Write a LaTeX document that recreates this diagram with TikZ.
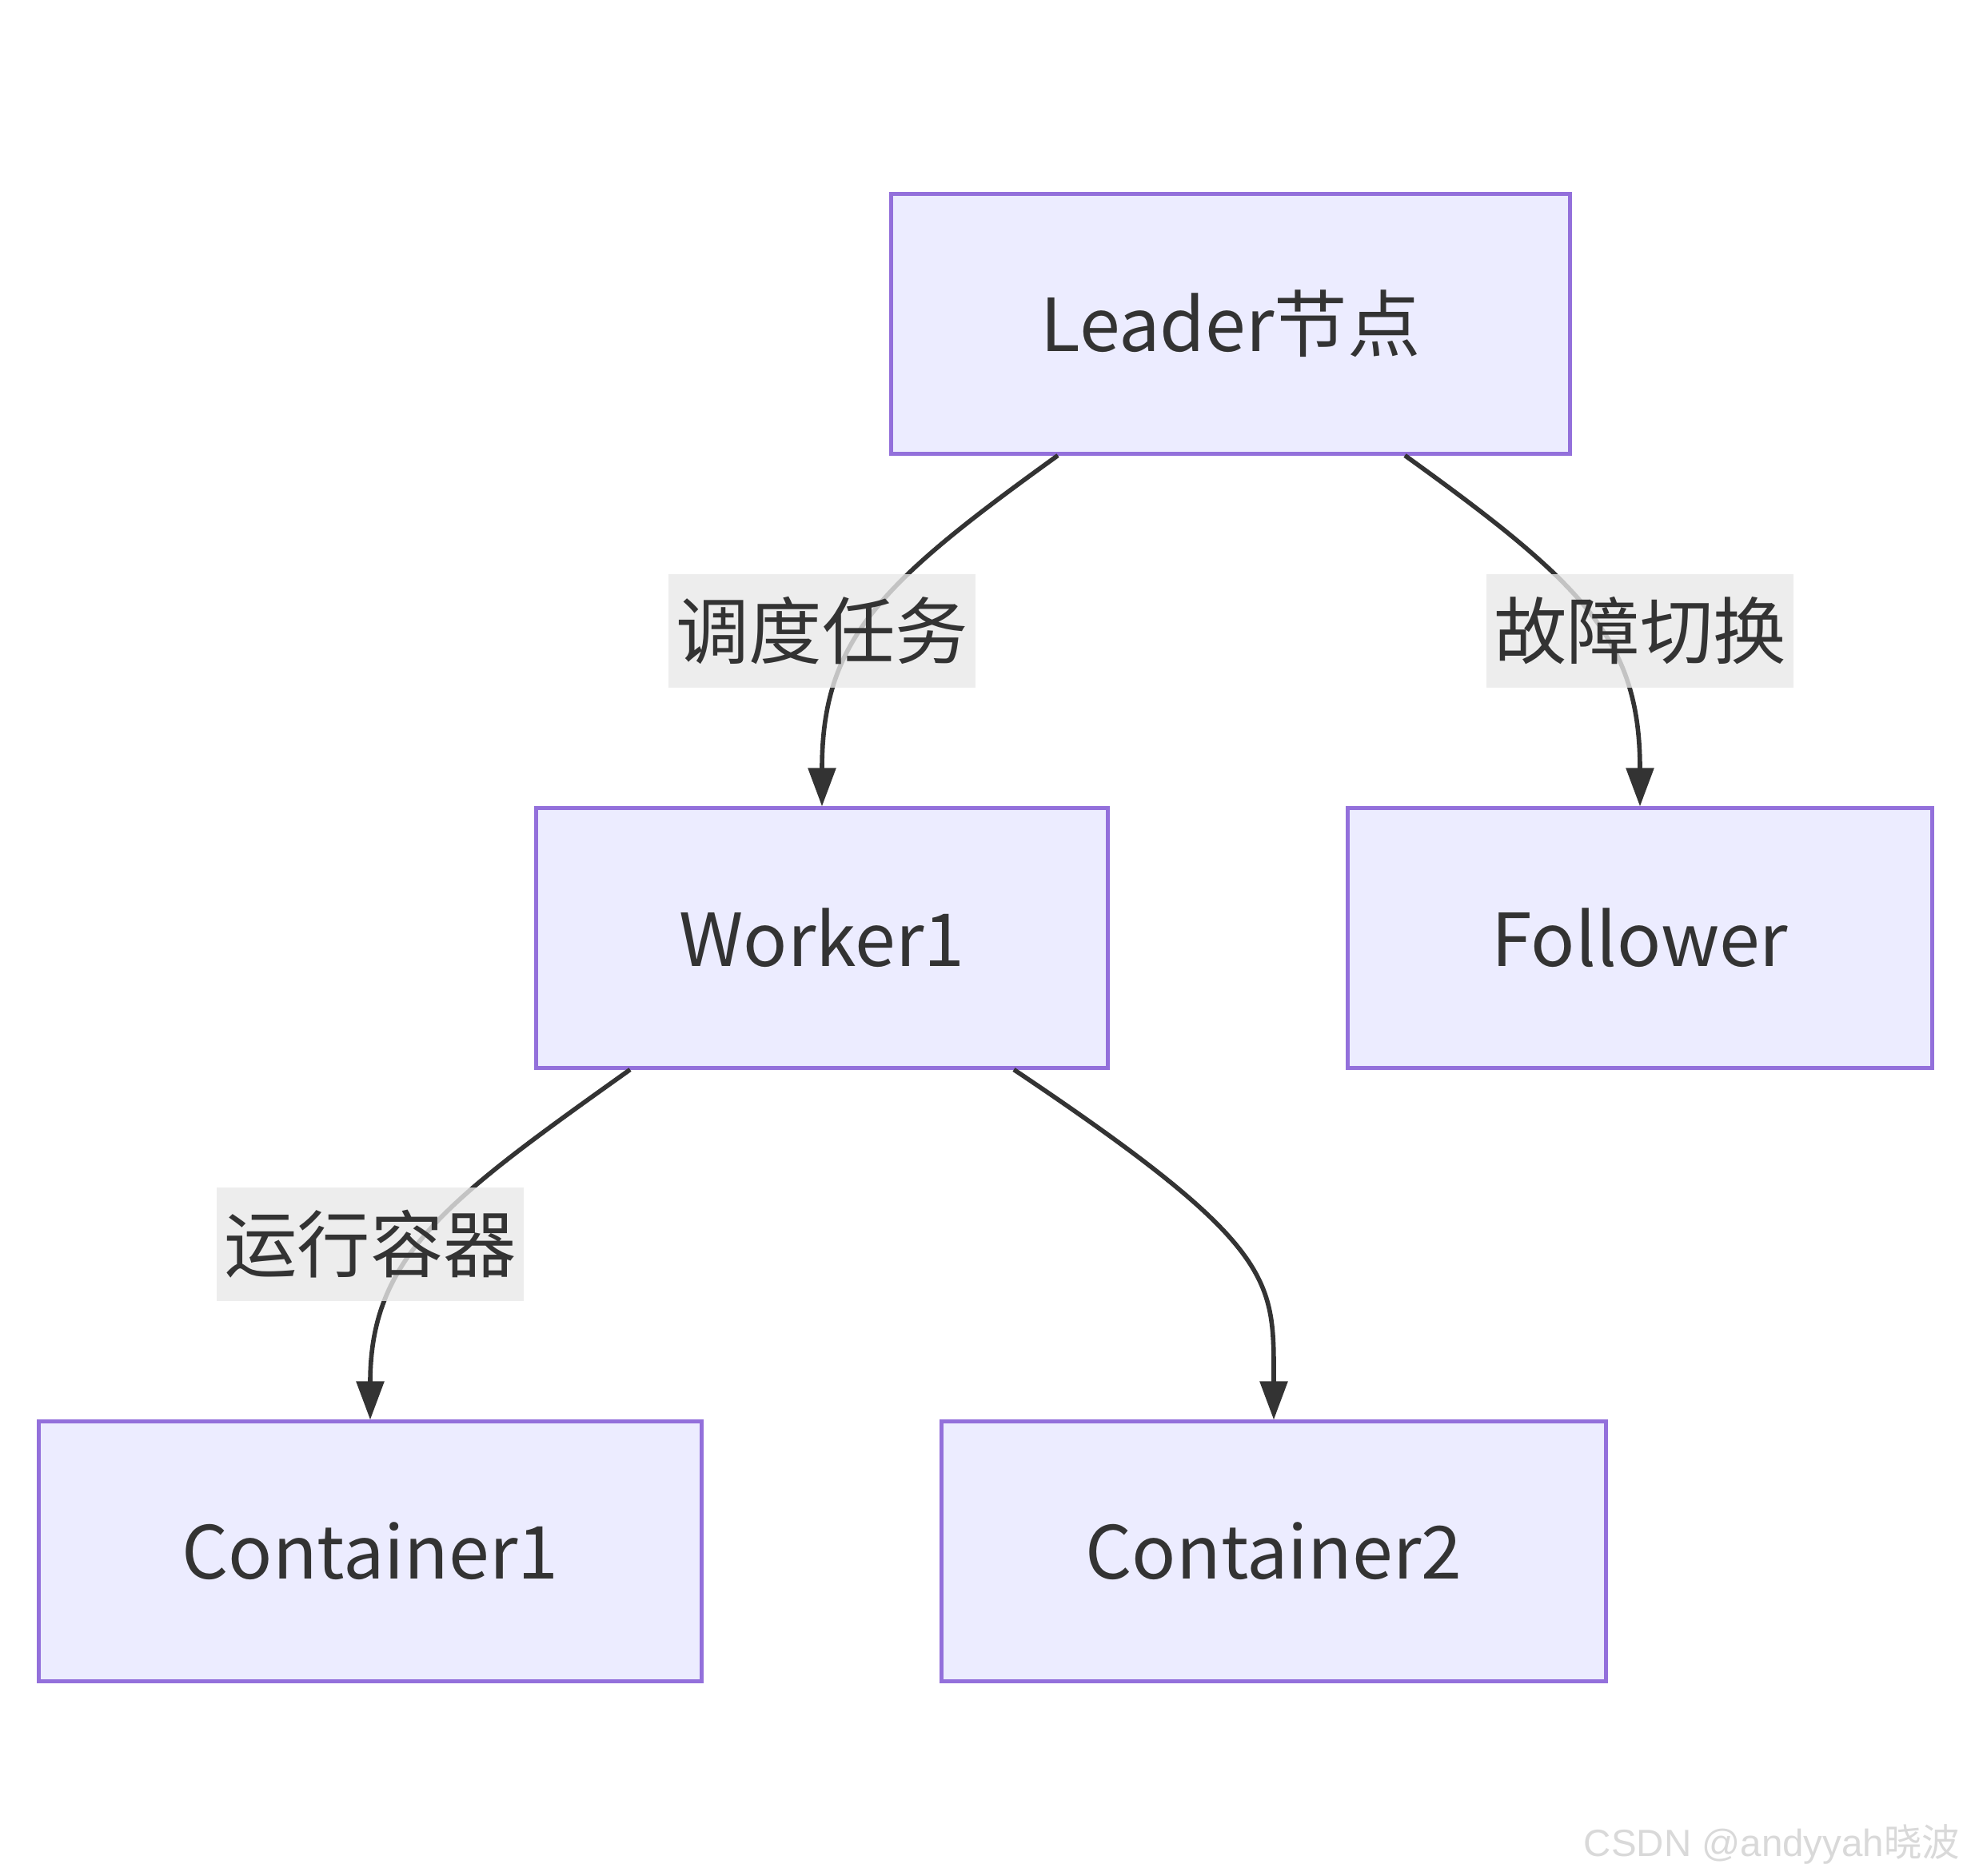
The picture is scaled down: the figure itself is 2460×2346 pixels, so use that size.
\documentclass[tikz,border=0pt]{standalone}
\usepackage{fontspec}
\setmainfont{Noto Sans CJK SC}
\newfontfamily\wmfont{Liberation Sans}
\newfontfamily\cjk{Noto Sans CJK SC}
\usetikzlibrary{arrows.meta,calc}
\definecolor{boxfill}{HTML}{ECECFF}
\definecolor{boxline}{HTML}{9370DB}
\definecolor{ink}{HTML}{333333}
\definecolor{lblbg}{HTML}{E8E8E8}
\begin{document}
\begin{tikzpicture}[x=0.01cm,y=-0.01cm,
  box/.style={draw=boxline,fill=boxfill,line width=1.4pt,text=ink,
    font=\fontsize{26}{30}\selectfont,minimum height=3.24cm,inner sep=0pt},
  edge/.style={draw=ink,line width=1.6pt,-{Triangle[length=0.48cm,width=0.34cm]}},
  lbl/.style={fill=lblbg,fill opacity=0.8,text opacity=1,text=ink,
    font=\fontsize{26}{30}\selectfont,minimum width=3.83cm,minimum height=1.41cm,inner sep=0pt}]
%\draw[step=100,gray,very thin] (0,0) grid (2460,2346);
\useasboundingbox (0,0) rectangle (2460,2346);
\node[box,minimum width=8.48cm] (leader) at (1539,405) {Leader节点};
\node[box,minimum width=7.15cm] (worker) at (1028,1173) {Worker1};
\node[box,minimum width=7.31cm] (follower) at (2051,1173) {Follower};
\node[box,minimum width=8.28cm] (cont1) at (463,1940) {Container1};
\node[box,minimum width=8.30cm] (cont2) at (1593,1940) {Container2};
\draw[edge] ($(leader.south)+(-216,0)$) .. controls (1100,730) and (1028,800) .. (worker.north);
\draw[edge] ($(leader.south)+(218,0)$) .. controls (1980,730) and (2051,800) .. (follower.north);
\draw[edge] ($(worker.south)+(-240,0)$) .. controls (560,1500) and (463,1570) .. (cont1.north);
\draw[edge] ($(worker.south)+(240,0)$) .. controls (1600,1560) and (1593,1600) .. (cont2.north);
\node[lbl] (sched) at (1028,789) {调度任务};
\node[lbl] (failover) at (2051,789) {故障切换};
\node[lbl] (run) at (463,1556) {运行容器};
\node[text=gray!30,font=\wmfont\fontsize{13.5}{16}\selectfont,anchor=east,inner sep=0pt] (mark) at (2452,2306) {CSDN @andyyah{\cjk 晓波}};
\end{tikzpicture}
\end{document}
